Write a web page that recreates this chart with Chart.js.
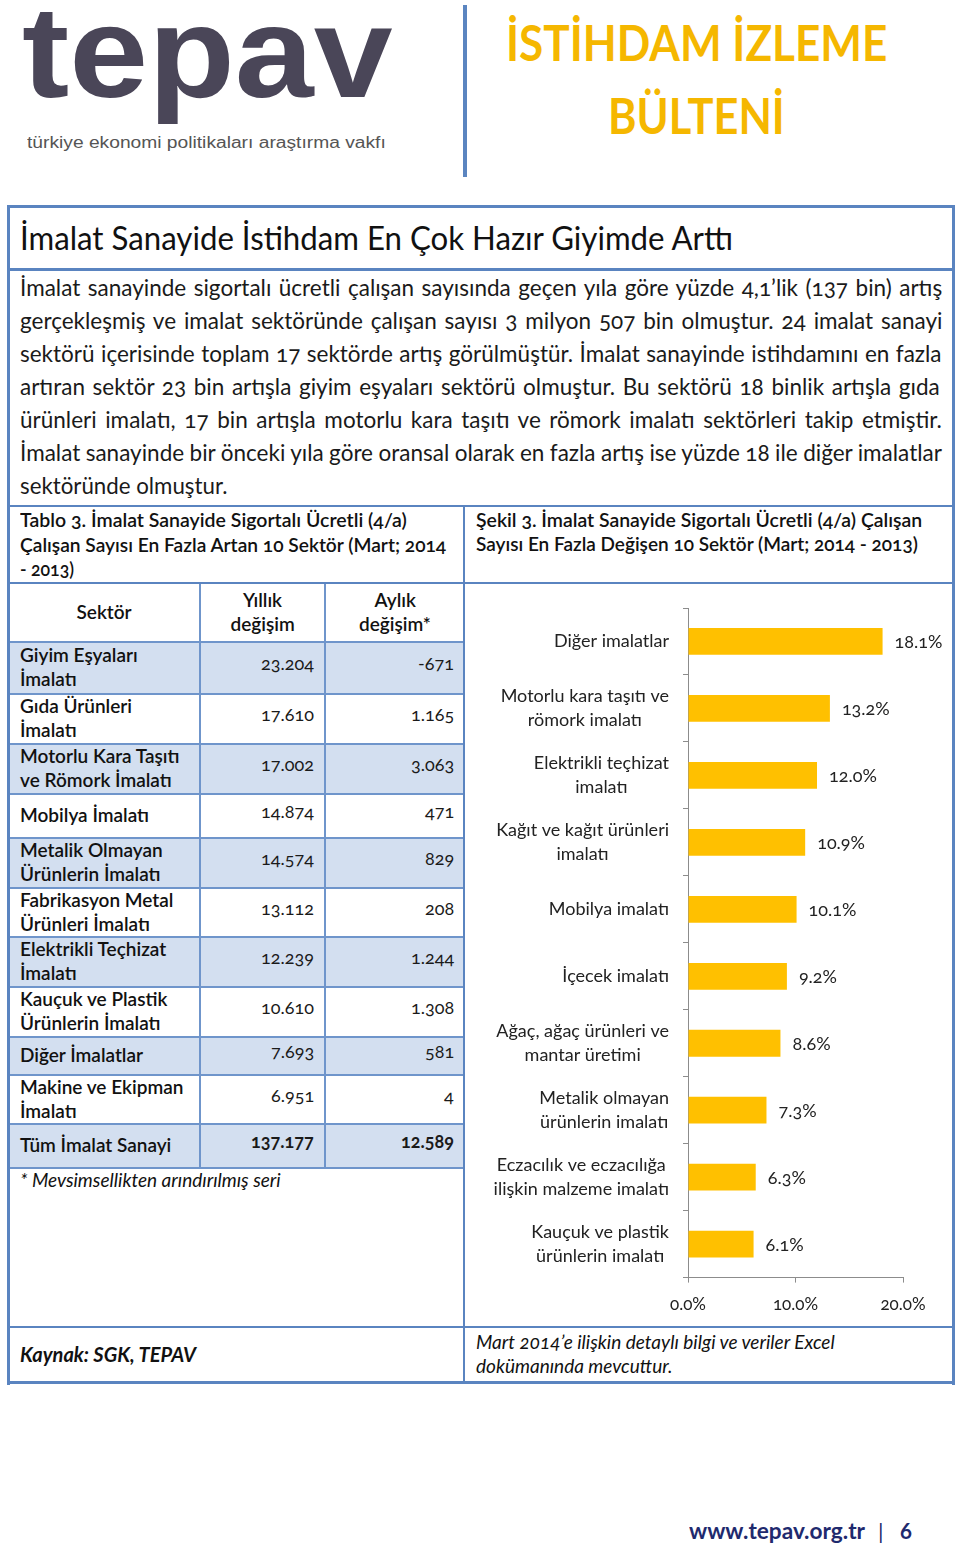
<!DOCTYPE html>
<html lang="tr"><head><meta charset="utf-8">
<script src="https://cdn.jsdelivr.net/npm/chart.js@4.4.1/dist/chart.umd.min.js"></script>
<style>
html,body{margin:0;padding:0;background:#fff;}
body{width:960px;height:1549px;position:relative;overflow:hidden;font-family:Lato,"Open Sans",sans-serif;color:#1a1a1a;font-feature-settings:"onum";}
.t{position:absolute;white-space:nowrap;transform-origin:0 50%;}
.ln{position:absolute;background:#5a86c2;}
.cell{position:absolute;box-sizing:border-box;}
#chartBox{position:absolute;left:470px;top:592px;width:480px;height:739px;}
</style></head>
<body>
<div id="page"></div>
<div id="chartBox"><canvas id="c" width="480" height="739"></canvas></div>
<script>
// ---------- DATA ----------
const paragraphLines = [
 "İmalat sanayinde sigortalı ücretli çalışan sayısında geçen yıla göre yüzde 4,1’lik (137 bin) artış",
 "gerçekleşmiş ve imalat sektöründe çalışan sayısı 3 milyon 507 bin olmuştur. 24 imalat sanayi",
 "sektörü içerisinde toplam 17 sektörde artış görülmüştür. İmalat sanayinde istihdamını en fazla",
 "artıran sektör 23 bin artışla giyim eşyaları sektörü olmuştur.  Bu sektörü 18 binlik artışla gıda",
 "ürünleri imalatı, 17 bin artışla motorlu kara taşıtı ve römork imalatı sektörleri takip etmiştir.",
 "İmalat sanayinde bir önceki yıla göre oransal olarak en fazla artış ise yüzde 18 ile diğer imalatlar",
 "sektöründe olmuştur."
];
const tableCaption = ["Tablo 3. İmalat Sanayide Sigortalı Ücretli (4/a)","Çalışan Sayısı En Fazla Artan 10 Sektör (Mart; 2014","- 2013)"];
const chartCaption = ["Şekil 3. İmalat Sanayide Sigortalı Ücretli (4/a) Çalışan","Sayısı En Fazla Değişen 10 Sektör (Mart; 2014 - 2013)"];
const tableHeaders = [["Sektör"],["Yıllık","değişim"],["Aylık","değişim*"]];
const sectors = [["Giyim Eşyaları","İmalatı"],["Gıda Ürünleri","İmalatı"],["Motorlu Kara Taşıtı","ve Römork İmalatı"],["Mobilya İmalatı"],["Metalik Olmayan","Ürünlerin İmalatı"],["Fabrikasyon Metal","Ürünleri İmalatı"],["Elektrikli Teçhizat","İmalatı"],["Kauçuk ve Plastik","Ürünlerin İmalatı"],["Diğer İmalatlar"],["Makine ve Ekipman","İmalatı"],["Tüm İmalat Sanayi"]];
const yearlyChange = ["23.204","17.610","17.002","14.874","14.574","13.112","12.239","10.610","7.693","6.951","137.177"];
const monthlyChange = ["-671","1.165","3.063","471","829","208","1.244","1.308","581","4","12.589"];
const categories = ["Diğer imalatlar",["Motorlu kara taşıtı ve","römork imalatı"],["Elektrikli teçhizat","imalatı"],["Kağıt ve kağıt ürünleri","imalatı"],"Mobilya imalatı","İçecek imalatı",["Ağaç, ağaç ürünleri ve","mantar üretimi"],["Metalik olmayan","ürünlerin imalatı"],["Eczacılık ve eczacılığa","ilişkin malzeme imalatı"],["Kauçuk ve plastik","ürünlerin imalatı"]];
const growthValues = [18.1,13.2,12.0,10.9,10.1,9.2,8.6,7.3,6.3,6.1];
const xTickValues = [0,10,20];

// ---------- LAYOUT HELPERS ----------
const page = document.getElementById('page');
function txt(x, yc, s, o){
  o = o||{};
  const d = document.createElement('div');
  d.className='t';
  const fs = o.size||18, lh = o.lh||Math.round(fs*1.3);
  d.style.left = x+'px';
  d.style.top = (yc - lh/2 - (o.dy==null?2:o.dy))+'px';
  d.style.fontSize = fs+'px';
  d.style.lineHeight = lh+'px';
  if(o.weight) d.style.fontWeight=o.weight;
  if(o.italic) d.style.fontStyle='italic';
  if(o.color) d.style.color=o.color;
  if(o.family) d.style.fontFamily=o.family;
  d.textContent = s;
  page.appendChild(d);
  return d;
}
function line(x,y,w,h,c){const d=document.createElement('div');d.className='ln';d.style.left=x+'px';d.style.top=y+'px';d.style.width=w+'px';d.style.height=h+'px';if(c)d.style.background=c;page.appendChild(d);return d;}
function box(x,y,w,h,bg){const d=document.createElement('div');d.className='cell';d.style.left=x+'px';d.style.top=y+'px';d.style.width=w+'px';d.style.height=h+'px';d.style.background=bg;page.appendChild(d);return d;}
const fits = [];
function fitScale(el, w){ fits.push(()=>{ const n=el.offsetWidth; el.style.transform='scaleX('+(w/n)+')'; }); }
function fitJustify(el, w){ fits.push(()=>{ const n=el.offsetWidth; const sp=(el.textContent.match(/ /g)||[]).length; const ws=(w-n)/sp; if(ws<-2){el.style.transform='scaleX('+(w/n)+')';} else el.style.wordSpacing=ws+'px'; }); }
function centerAt(el, cx){ fits.push(()=>{ el.style.left=(cx-el.offsetWidth/2)+'px'; }); }
function rightAt(el, rx){ fits.push(()=>{ el.style.left=(rx-el.offsetWidth)+'px'; }); }

// ---------- HEADER ----------
const logo = txt(22, 55, "tepav", {size:130, lh:130, weight:700, family:'"Liberation Sans",Arial,sans-serif', color:'#4a4658', dy:3});
fitScale(logo, 371);
const sub = txt(27, 142, "türkiye ekonomi politikaları araştırma vakfı", {size:16, family:'"Liberation Sans",Arial,sans-serif', color:'#555', dy:0});
fitScale(sub, 359);
line(463,5,4,172,'#5b85c0');
const b1 = txt(506, 42, "İSTİHDAM İZLEME", {size:50, lh:60, weight:700, color:'#f5b700', dy:0});
fitScale(b1, 381);
const b2 = txt(608, 115, "BÜLTENİ", {size:50, lh:60, weight:700, color:'#f5b700', dy:0});
fitScale(b2, 177);

// ---------- FRAME ----------
const FC='#5a84c0';
line(7,205,948,3,FC); line(7,205,3,1180,FC); line(952,205,3,1180,FC); line(7,1381,948,3,FC);
line(7,268,948,3,FC); line(7,505,948,2,FC); line(7,582,948,2,FC); line(7,1326,948,2,FC);
line(463,505,2,879,FC);

const head = txt(20, 240, "İmalat Sanayide İstihdam En Çok Hazır Giyimde Arttı", {size:32, lh:40, weight:400, color:'#111'});
fitScale(head, 713);

const pYs=[289,322,355,388,421,454,487];
paragraphLines.forEach((s,i)=>{
  const el = txt(20, pYs[i], s, {size:22.5, lh:33, color:'#1a1a1a'});
  if(i<paragraphLines.length-1) fitJustify(el, 922); else fitScale(el, 207);
});

const tcW=[387,426,54];
tableCaption.forEach((s,i)=>{ const el=txt(20,522+i*24.5,s,{size:19,lh:24,weight:600,color:'#111'}); fitScale(el,tcW[i]); });
const ccW=[446,442];
chartCaption.forEach((s,i)=>{ const el=txt(476,522+i*24,s,{size:19,lh:24,weight:600,color:'#111'}); fitScale(el,ccW[i]); });

// ---------- TABLE ----------
const colX=[10,200,325,465];
const rowY=[584,642,694,744,794,838,888,937,987,1037,1075,1124,1168];
const GC='#6f95cb';
for(let r=0;r<sectors.length;r++){
  if(r%2===0) box(10,rowY[r+1],453,rowY[r+2]-rowY[r+1],'#d3dff0');
}
for(let i=1;i<rowY.length;i++) line(10,rowY[i]-1,453,2,GC);
line(199,584,2,584,GC); line(324,584,2,584,GC);

tableHeaders.forEach((h,c)=>{
  const cx=(colX[c]+colX[c+1])/2+ (c===0?-1:0);
  const yc=(rowY[0]+rowY[1])/2+1;
  h.forEach((s,j)=>{
    const el=txt(0, yc+(j-(h.length-1)/2)*24, s, {size:19,lh:24,weight:600,color:'#111'});
    centerAt(el,cx);
  });
});
sectors.forEach((lab,r)=>{
  const yc=(rowY[r+1]+rowY[r+2])/2+1;
  lab.forEach((s,j)=>{
    txt(20, yc+(j-(lab.length-1)/2)*24, s, {size:19,lh:24,weight:600,color:'#111'});
  });
  const bold = r===sectors.length-1 ? 700 : 400;
  const e1=txt(0, yc-4, yearlyChange[r], {size:18,lh:24,weight:bold,color:'#1a1a1a'}); rightAt(e1,314);
  const e2=txt(0, yc-4, monthlyChange[r], {size:18,lh:24,weight:bold,color:'#1a1a1a'}); rightAt(e2,454);
});
txt(20,1182,"* Mevsimsellikten arındırılmış seri",{size:19,lh:24,italic:true,color:'#111'});

// ---------- FOOTER ----------
txt(20,1356,"Kaynak: SGK, TEPAV",{size:20,lh:24,italic:true,weight:700,color:'#111'});
txt(476,1344,"Mart 2014’e ilişkin detaylı bilgi ve veriler Excel",{size:19,lh:24,italic:true,color:'#111'});
txt(476,1368,"dokümanında mevcuttur.",{size:19,lh:24,italic:true,color:'#111'});
const w1=txt(689,1533,"www.tepav.org.tr",{size:22,lh:28,weight:700,color:'#1f2a6e'});
fitScale(w1,176);
txt(878,1533,"|",{size:22,lh:28,weight:400,color:'#1f2a6e'});
txt(900,1533,"6",{size:22,lh:28,weight:700,color:'#1f2a6e'});

// ---------- CHART ----------
const labelPlugin = {
  id:'lbls',
  afterDraw(chart){
    const ctx=chart.ctx, ys=chart.scales.y;
    ctx.save();
    ctx.font='18px Lato'; ctx.fillStyle='#222'; ctx.textBaseline='middle'; ctx.textAlign='center';
    const rightEdge = ys.right - 19;
    categories.forEach((lab,i)=>{
      const lines = Array.isArray(lab)?lab:[lab];
      const bw = Math.max(...lines.map(s=>ctx.measureText(s).width));
      const cx = rightEdge - bw/2;
      const y = ys.getPixelForValue(i);
      lines.forEach((s,j)=>ctx.fillText(s, cx, y+(j-(lines.length-1)/2)*24));
    });
    const meta = chart.getDatasetMeta(0);
    ctx.textAlign='left';
    meta.data.forEach((bar,i)=>ctx.fillText(growthValues[i].toFixed(1)+'%', bar.x+12, bar.y+1));
    ctx.restore();
  }
};
function makeChart(){
  Chart.defaults.font.family='Lato';
  new Chart(document.getElementById('c'),{
    type:'bar',
    data:{labels:categories,datasets:[{data:growthValues,backgroundColor:'#ffc000',barPercentage:0.4,categoryPercentage:1}]},
    options:{
      indexAxis:'y',responsive:false,animation:false,maintainAspectRatio:false,
      layout:{padding:{top:16,right:47,bottom:4,left:0}},
      plugins:{legend:{display:false},tooltip:{enabled:false}},
      scales:{
        x:{min:0,max:20,afterBuildTicks:s=>{s.ticks=xTickValues.map(v=>({value:v}));},
           ticks:{callback:v=>Number(v).toFixed(1)+'%',color:'#222',font:{size:17},padding:12,maxRotation:0},
           grid:{drawOnChartArea:false,drawTicks:true,tickLength:5,color:'#8c8c8c'},border:{color:'#8c8c8c'}},
        y:{ticks:{display:false},grid:{drawOnChartArea:false,offset:true,tickLength:5,color:'#8c8c8c'},border:{color:'#8c8c8c'},
           afterFit:s=>{s.width=218;}}
      }
    },
    plugins:[labelPlugin]
  });
}
function runFits(){ fits.forEach(f=>f()); }
Promise.all([document.fonts.load('17px Lato'),document.fonts.load('600 19px Lato'),document.fonts.load('700 50px Lato'),document.fonts.load('italic 18px Lato'),document.fonts.load('bold 130px "Liberation Sans"')]).catch(()=>{}).then(()=>{runFits();makeChart();});
</script>
</body></html>
